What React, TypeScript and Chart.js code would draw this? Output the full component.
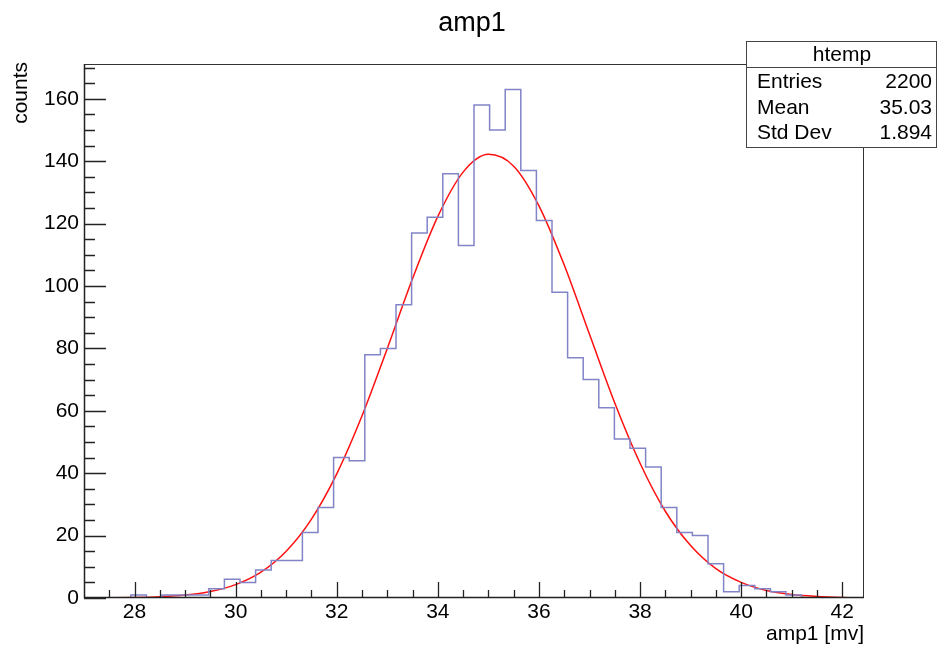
import React, { useEffect, useRef } from 'react';
import { Chart, registerables } from 'chart.js';

Chart.register(...registerables);

// Histogram definition (50 bins)
const binLow = 27.0;
const binHigh = 42.43;
const binCounts = [
  0, 0, 0, 1, 0, 1, 1, 1, 3, 6,
  5, 9, 12, 12, 21, 29, 45, 44, 78, 80,
  94, 117, 122, 136, 113, 158, 150, 163, 137, 121,
  98, 77, 70, 61, 51, 48, 42, 29, 21, 20,
  11, 2, 4, 3, 2, 1, 0, 0, 0, 0,
];

// Gaussian fit curve
const fitX = [27, 27.5, 28, 28.5, 29, 29.5, 30, 30.5, 31, 31.5, 32, 32.5, 33, 33.5, 34, 34.5,
  35, 35.5, 36, 36.5, 37, 37.5, 38, 38.5, 39, 39.5, 40, 40.5, 41, 41.5, 42, 42.5];
const fitY = [0.02, 0.06, 0.16, 0.4, 0.94, 2.1, 4.3, 8.3, 15.0, 25.3, 39.8, 58.4, 80.0, 102.4, 122.3, 136.5,
  142.2, 138.4, 125.7, 106.7, 84.5, 62.5, 43.2, 27.8, 16.8, 9.4, 5.0, 2.4, 1.1, 0.5, 0.2, 0.07];

// Axes
const yMax = 171.15;
const xTickLabels = [28, 30, 32, 34, 36, 38, 40, 42];
const xMinorTicks = [27.5, 28.5, 29, 29.5, 30.5, 31, 31.5, 32.5, 33, 33.5, 34.5, 35, 35.5,
  36.5, 37, 37.5, 38.5, 39, 39.5, 40.5, 41, 41.5, 42.5];
const yTickLabels = [0, 20, 40, 60, 80, 100, 120, 140, 160];
const yMinorTicks = [5, 10, 15, 25, 30, 35, 45, 50, 55, 65, 70, 75, 85, 90, 95, 105, 110, 115,
  125, 130, 135, 145, 150, 155, 165, 170];

// Texts
const mainTitle = 'amp1';
const xTitle = 'amp1 [mv]';
const yTitle = 'counts';
const statsName = 'htemp';
const statsLabels = ['Entries', 'Mean', 'Std Dev'];
const statsValues = ['2200', '35.03', '1.894'];

const FONT = '"Liberation Sans", Arial, Helvetica, sans-serif';

const rootPlugin = {
  id: 'rootDecor',
  afterDraw(chart: any) {
    const ctx = chart.ctx as CanvasRenderingContext2D;
    const { left, right, top, bottom } = chart.chartArea;
    const xs = chart.scales.x;
    const ys = chart.scales.y;
    ctx.save();
    // frame
    ctx.strokeStyle = '#333';
    ctx.lineWidth = 1;
    ctx.strokeRect(left + 0.5, top + 0.5, right - left - 1, bottom - top - 1);
    // bottom axis line
    ctx.strokeStyle = '#222';
    ctx.lineWidth = 1.5;
    ctx.beginPath();
    ctx.moveTo(left, bottom - 0.5);
    ctx.lineTo(right, bottom - 0.5);
    ctx.moveTo(left + 0.5, top);
    ctx.lineTo(left + 0.5, bottom);
    ctx.stroke();
    // ticks
    ctx.lineWidth = 1.3;
    ctx.strokeStyle = '#222';
    ctx.beginPath();
    xTickLabels.forEach((v) => {
      const p = Math.round(xs.getPixelForValue(v)) + 0.5;
      ctx.moveTo(p, bottom);
      ctx.lineTo(p, bottom - 16);
    });
    xMinorTicks.forEach((v) => {
      if (v > binHigh) return;
      const p = Math.round(xs.getPixelForValue(v)) + 0.5;
      ctx.moveTo(p, bottom);
      ctx.lineTo(p, bottom - 8);
    });
    yTickLabels.forEach((v) => {
      const p = Math.round(ys.getPixelForValue(v)) + 0.5;
      ctx.moveTo(left, p);
      ctx.lineTo(left + 22, p);
    });
    yMinorTicks.forEach((v) => {
      const p = Math.round(ys.getPixelForValue(v)) + 0.5;
      ctx.moveTo(left, p);
      ctx.lineTo(left + 11, p);
    });
    ctx.stroke();

    // titles
    ctx.fillStyle = '#000';
    ctx.font = `27px ${FONT}`;
    ctx.textAlign = 'center';
    ctx.textBaseline = 'alphabetic';
    ctx.fillText(mainTitle, 472, 31);

    ctx.font = `21px ${FONT}`;
    ctx.textAlign = 'right';
    ctx.fillText(xTitle, right, 640);

    ctx.save();
    ctx.translate(27, top - 2);
    ctx.rotate(-Math.PI / 2);
    ctx.textAlign = 'right';
    ctx.fillText(yTitle, 0, 0);
    ctx.restore();

    // stats box
    const bx = 746.5, by = 41.5, bw = 190, bh = 106;
    ctx.fillStyle = '#fff';
    ctx.fillRect(bx, by, bw, bh);
    ctx.strokeStyle = '#444';
    ctx.lineWidth = 1;
    ctx.strokeRect(bx, by, bw, bh);
    ctx.beginPath();
    ctx.moveTo(bx, 67.5);
    ctx.lineTo(bx + bw, 67.5);
    ctx.stroke();
    ctx.fillStyle = '#000';
    ctx.font = `21px ${FONT}`;
    ctx.textAlign = 'center';
    ctx.textBaseline = 'middle';
    ctx.fillText(statsName, 842, 55);
    const rowsY = [82, 108, 133];
    statsLabels.forEach((lab, i) => {
      ctx.textAlign = 'left';
      ctx.fillText(lab, 757, rowsY[i]);
      ctx.textAlign = 'right';
      ctx.fillText(statsValues[i], 932, rowsY[i]);
    });
    ctx.restore();
  },
};

export default function App() {
  const canvasRef = useRef<HTMLCanvasElement | null>(null);

  useEffect(() => {
    if (!canvasRef.current) return;
    const n = binCounts.length;
    const w = (binHigh - binLow) / n;
    const histData = binCounts.map((c, k) => ({ x: binLow + k * w, y: c }));
    histData.push({ x: binHigh, y: binCounts[n - 1] });
    const fitData = fitX.map((x, i) => ({ x, y: fitY[i] }));

    const chart = new Chart(canvasRef.current, {
      type: 'line',
      data: {
        datasets: [
          {
            label: 'htemp',
            data: histData,
            stepped: 'before',
            borderColor: '#8284c8',
            borderWidth: 1.5,
            pointRadius: 0,
            fill: false,
          },
          {
            label: 'fit',
            data: fitData,
            borderColor: '#ff1010',
            borderWidth: 1.5,
            pointRadius: 0,
            cubicInterpolationMode: 'monotone',
            fill: false,
          },
        ],
      },
      options: {
        responsive: false,
        animation: false,
        events: [],
        layout: { padding: { left: 0, top: 64, right: 74, bottom: 0 } },
        plugins: {
          legend: { display: false },
          title: { display: false },
          tooltip: { enabled: false },
        },
        scales: {
          x: {
            type: 'linear',
            min: binLow,
            max: binHigh,
            grid: { display: false, drawTicks: false },
            border: { display: false },
            ticks: {
              autoSkip: false,
              maxRotation: 0,
              padding: 2,
              color: '#000',
              font: { family: FONT, size: 21 },
              callback: (v: any) => String(v),
            },
            afterBuildTicks: (s: any) => {
              s.ticks = xTickLabels.map((v) => ({ value: v }));
            },
            afterFit: (s: any) => {
              s.height = 49;
            },
          },
          y: {
            type: 'linear',
            min: 0,
            max: yMax,
            grid: { display: false, drawTicks: false },
            border: { display: false },
            ticks: {
              autoSkip: false,
              padding: 5,
              color: '#000',
              font: { family: FONT, size: 21 },
              callback: (v: any) => String(v),
            },
            afterBuildTicks: (s: any) => {
              s.ticks = yTickLabels.map((v) => ({ value: v }));
            },
            afterFit: (s: any) => {
              s.width = 84;
            },
          },
        },
      },
      plugins: [rootPlugin],
    });
    return () => chart.destroy();
  }, []);

  return (
    <div style={{ position: 'absolute', left: 0, top: 0, width: 938, height: 647, background: '#fff' }}>
      <canvas ref={canvasRef} width={938} height={647} />
    </div>
  );
}
